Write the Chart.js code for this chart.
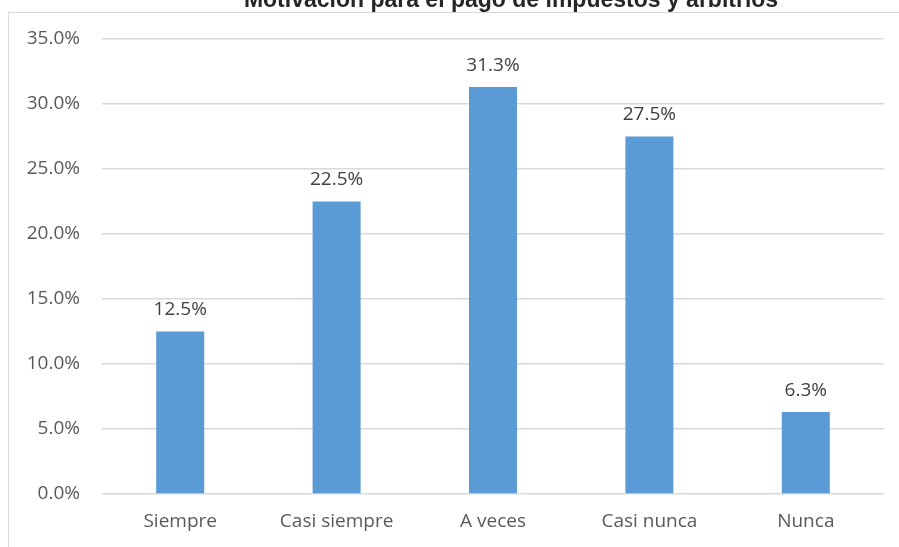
<!DOCTYPE html>
<html>
<head>
<meta charset="utf-8">
<script src="https://cdn.jsdelivr.net/npm/chart.js@4.4.1/dist/chart.umd.min.js"></script>
<style>
  html, body { margin: 0; padding: 0; background: #ffffff; overflow: hidden; width: 899px; height: 547px; }
  #frame { position: absolute; left: 8px; top: 12px; width: 2000px; height: 1000px;
           border-left: 1px solid #d9d9d9; border-top: 1px solid #d9d9d9; }
  #chart { position: absolute; left: 0; top: -20px; }
</style>
</head>
<body>
<div id="frame"></div>
<canvas id="chart" width="1022" height="567"></canvas>
<script>
var categories = ['Siempre', 'Casi siempre', 'A veces', 'Casi nunca', 'Nunca'];
var percentages = [12.5, 22.5, 31.3, 27.5, 6.3];
var chartTitle = 'Motivación para el pago de impuestos y arbitrios';

var labelFont = { family: '"Open Sans", sans-serif', size: 19 };

// value above every bar
var barLabels = {
    id: 'barLabels',
    afterDatasetsDraw: function(chart) {
        var ctx = chart.ctx;
        var meta = chart.getDatasetMeta(0);
        ctx.save();
        ctx.font = labelFont.size + 'px ' + labelFont.family;
        ctx.fillStyle = '#404040';
        ctx.textAlign = 'center';
        ctx.textBaseline = 'middle';
        meta.data.forEach(function(bar, i) {
            ctx.fillText(percentages[i].toFixed(1) + '%', bar.x, bar.y - 22);
        });
        ctx.restore();
    }
};

// title centred on the whole (wider) chart box, half of it above the page edge
var topTitle = {
    id: 'topTitle',
    afterDraw: function(chart) {
        var ctx = chart.ctx;
        ctx.save();
        ctx.font = 'bold 23px "Liberation Sans", Arial, sans-serif';
        ctx.fillStyle = '#262626';
        ctx.textAlign = 'center';
        ctx.textBaseline = 'alphabetic';
        ctx.fillText(chartTitle, chart.width / 2, 27);
        ctx.restore();
    }
};

var ctx = document.getElementById('chart').getContext('2d');
var chart = new Chart(ctx, {
    type: 'bar',
    data: {
        labels: categories,
        datasets: [{
            data: percentages,
            backgroundColor: '#5b9bd5',
            barPercentage: 0.614,
            categoryPercentage: 0.5
        }]
    },
    options: {
        responsive: false,
        animation: false,
        layout: { padding: { left: 8, right: 138, top: 59, bottom: 0 } },
        plugins: {
            legend: { display: false },
            tooltip: { enabled: false },
            title: { display: false }
        },
        scales: {
            x: {
                grid: { display: false, drawTicks: false },
                border: { display: false },
                ticks: { color: '#595959', font: labelFont, padding: 16 },
                afterFit: function(scale) { scale.height = 53; }
            },
            y: {
                min: 0,
                max: 35,
                grid: { color: '#d9d9d9', lineWidth: 1.5, drawTicks: false },
                border: { display: false },
                ticks: {
                    stepSize: 5,
                    color: '#595959',
                    font: labelFont,
                    padding: 22,
                    callback: function(v) { return v.toFixed(1) + '%'; }
                },
                afterFit: function(scale) { scale.width = 94; }
            }
        }
    },
    plugins: [barLabels, topTitle]
});
</script>
</body>
</html>
